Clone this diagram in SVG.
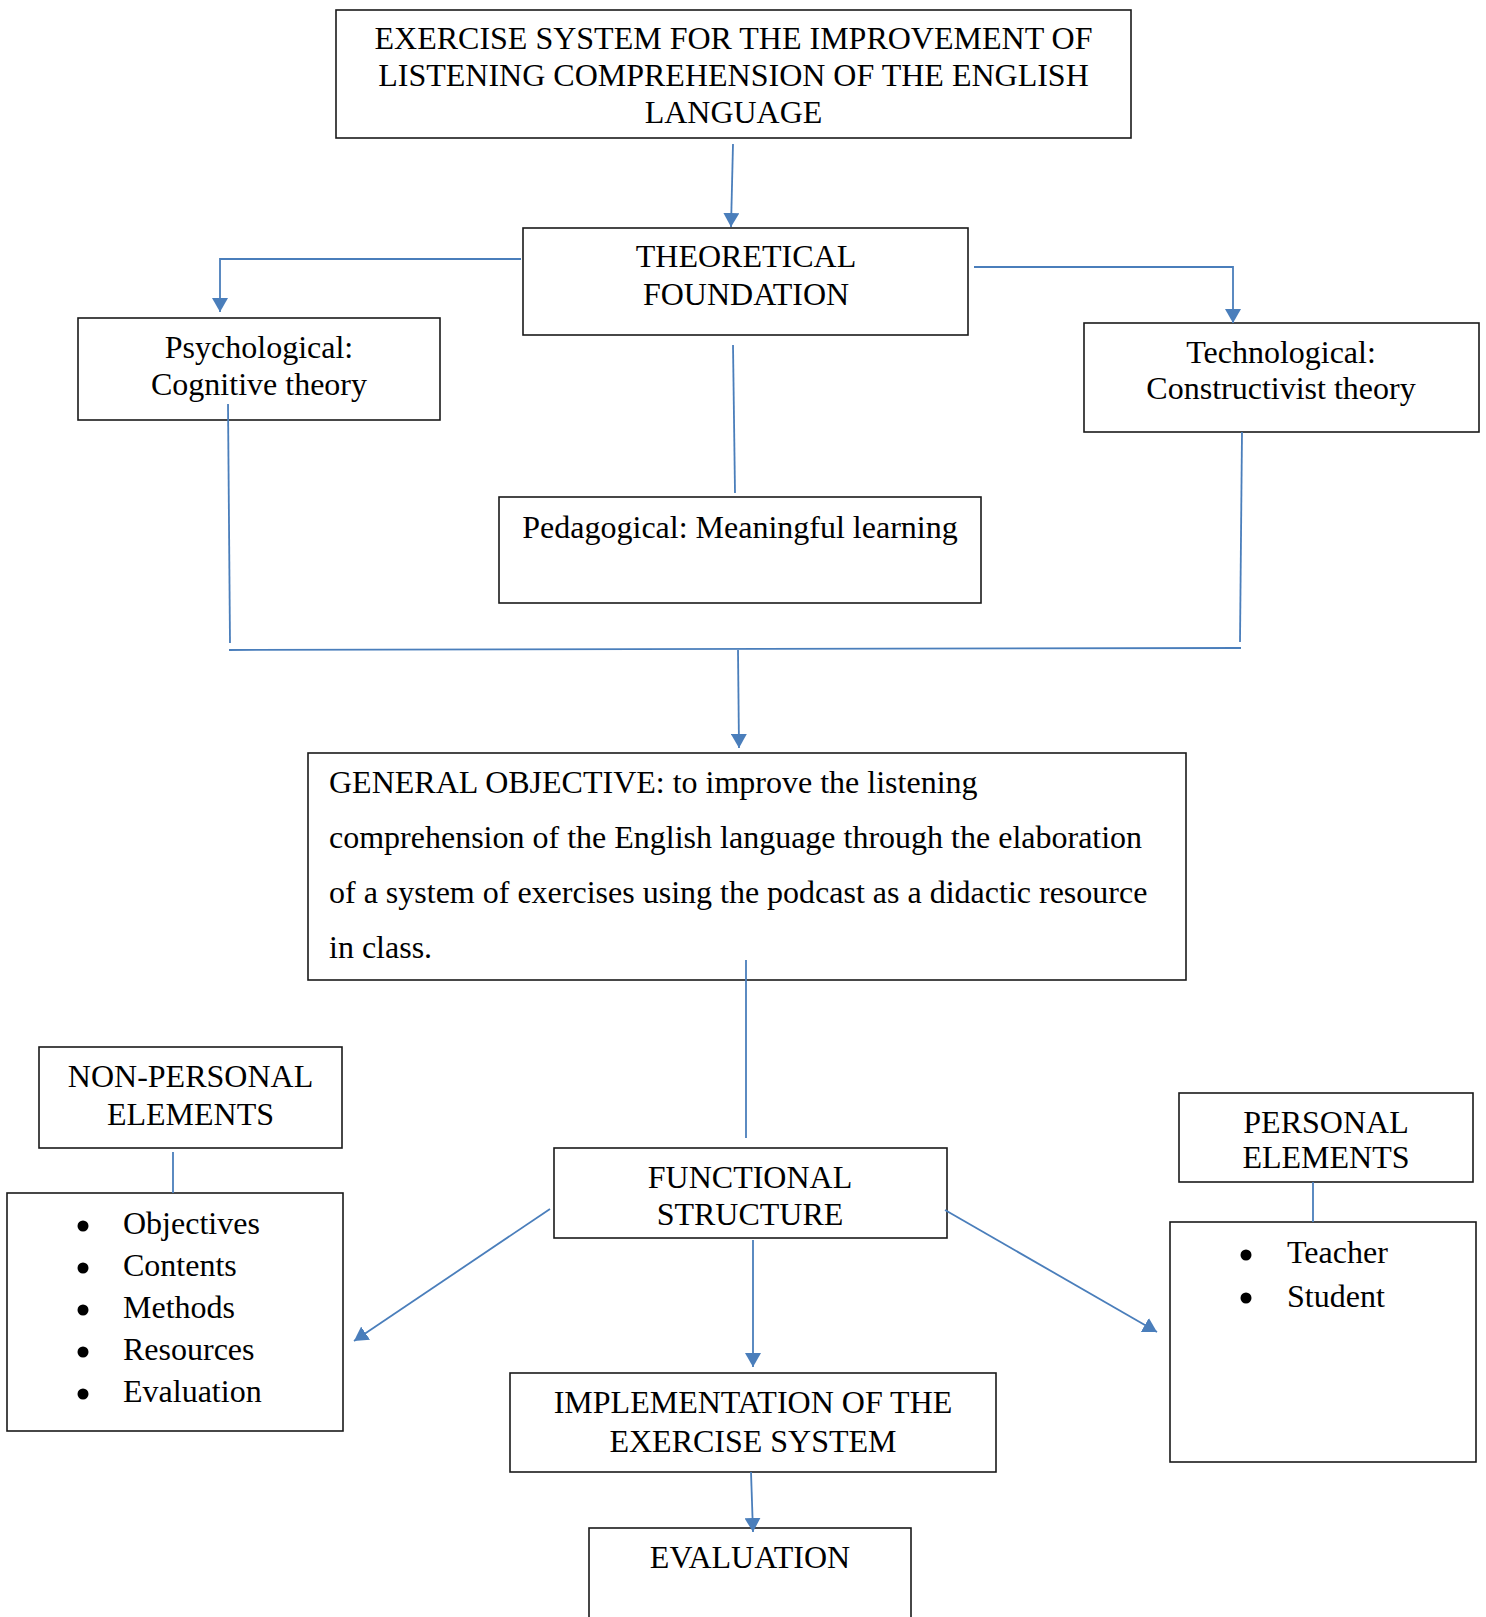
<svg xmlns="http://www.w3.org/2000/svg" width="1486" height="1617" viewBox="0 0 1486 1617">
<defs>
<style>
.box{fill:#fff;stroke:#1a1a1a;stroke-width:1.6}
.t{font-family:"Liberation Serif","Times New Roman",serif;font-size:32px;fill:#000}
.c{text-anchor:middle}
.ln{fill:none;stroke:#4A7EBB;stroke-width:1.8}
.bul{fill:#000}
</style>
<marker id="arr" markerUnits="userSpaceOnUse" markerWidth="16" markerHeight="16" refX="14" refY="8" orient="auto">
<path d="M0,0 L14,8 L0,16 Z" fill="#4A7EBB"/>
</marker>
</defs>
<rect width="1486" height="1617" fill="#fff"/>
<g id="title">
<rect class="box" x="336" y="10" width="795" height="128"/>
<text class="t c" x="733.5" y="49">EXERCISE SYSTEM FOR THE IMPROVEMENT OF</text>
<text class="t c" x="733.5" y="86">LISTENING COMPREHENSION OF THE ENGLISH</text>
<text class="t c" x="733.5" y="123">LANGUAGE</text>
</g>
<g id="theoretical">
<rect class="box" x="523" y="228" width="445" height="107"/>
<text class="t c" x="746" y="267">THEORETICAL</text>
<text class="t c" x="746" y="305">FOUNDATION</text>
</g>
<g id="psychological">
<rect class="box" x="78" y="318" width="362" height="102"/>
<text class="t c" x="259" y="358">Psychological:</text>
<text class="t c" x="259" y="395">Cognitive theory</text>
</g>
<g id="technological">
<rect class="box" x="1084" y="323" width="395" height="109"/>
<text class="t c" x="1281" y="363">Technological:</text>
<text class="t c" x="1281" y="399">Constructivist theory</text>
</g>
<g id="pedagogical">
<rect class="box" x="499" y="497" width="482" height="106"/>
<text class="t c" x="740" y="538">Pedagogical: Meaningful learning</text>
</g>
<g id="objective">
<rect class="box" x="308" y="753" width="878" height="227"/>
<text class="t" x="329" y="793">GENERAL OBJECTIVE: to improve the listening</text>
<text class="t" x="329" y="848">comprehension of the English language through the elaboration</text>
<text class="t" x="329" y="903">of a system of exercises using the podcast as a didactic resource</text>
<text class="t" x="329" y="958">in class.</text>
</g>
<g id="non-personal">
<rect class="box" x="39" y="1047" width="303" height="101"/>
<text class="t c" x="190.5" y="1087">NON-PERSONAL</text>
<text class="t c" x="190.5" y="1125">ELEMENTS</text>
</g>
<g id="non-personal-list">
<rect class="box" x="7" y="1193" width="336" height="238"/>
<circle class="bul" cx="83" cy="1226" r="5.5"/>
<circle class="bul" cx="83" cy="1268" r="5.5"/>
<circle class="bul" cx="83" cy="1310" r="5.5"/>
<circle class="bul" cx="83" cy="1352" r="5.5"/>
<circle class="bul" cx="83" cy="1394" r="5.5"/>
<text class="t" x="123" y="1234">Objectives</text>
<text class="t" x="123" y="1276">Contents</text>
<text class="t" x="123" y="1318">Methods</text>
<text class="t" x="123" y="1360">Resources</text>
<text class="t" x="123" y="1402">Evaluation</text>
</g>
<g id="functional">
<rect class="box" x="554" y="1148" width="393" height="90"/>
<text class="t c" x="750" y="1188">FUNCTIONAL</text>
<text class="t c" x="750" y="1225">STRUCTURE</text>
</g>
<g id="personal">
<rect class="box" x="1179" y="1093" width="294" height="89"/>
<text class="t c" x="1326" y="1133">PERSONAL</text>
<text class="t c" x="1326" y="1168">ELEMENTS</text>
</g>
<g id="personal-list">
<rect class="box" x="1170" y="1222" width="306" height="240"/>
<circle class="bul" cx="1246" cy="1255" r="5.5"/>
<circle class="bul" cx="1246" cy="1298" r="5.5"/>
<text class="t" x="1287" y="1263">Teacher</text>
<text class="t" x="1287" y="1307">Student</text>
</g>
<g id="implementation">
<rect class="box" x="510" y="1373" width="486" height="99"/>
<text class="t c" x="753" y="1413">IMPLEMENTATION OF THE</text>
<text class="t c" x="753" y="1452">EXERCISE SYSTEM</text>
</g>
<g id="evaluation">
<rect class="box" x="589" y="1528" width="322" height="110"/>
<text class="t c" x="750" y="1568">EVALUATION</text>
</g>
<g id="connectors">
<path class="ln" d="M733,144 L731,227" marker-end="url(#arr)"/>
<path class="ln" d="M521,259 L220,259 L220,312" marker-end="url(#arr)"/>
<path class="ln" d="M974,267 L1233,267 L1233,323" marker-end="url(#arr)"/>
<path class="ln" d="M733,345 L735,493"/>
<path class="ln" d="M228,404 L230,643"/>
<path class="ln" d="M1242,432 L1240,642"/>
<path class="ln" d="M229,650 L1241,648"/>
<path class="ln" d="M738,650 L739,748" marker-end="url(#arr)"/>
<path class="ln" d="M746,960 L746,1138"/>
<path class="ln" d="M550,1209 L354,1341" marker-end="url(#arr)"/>
<path class="ln" d="M753,1240 L753,1367" marker-end="url(#arr)"/>
<path class="ln" d="M945,1210 L1157,1332" marker-end="url(#arr)"/>
<path class="ln" d="M751,1472 L753,1532" marker-end="url(#arr)"/>
<path class="ln" d="M173,1152 L173,1193"/>
<path class="ln" d="M1313,1182 L1313,1222"/>
</g>
</svg>
